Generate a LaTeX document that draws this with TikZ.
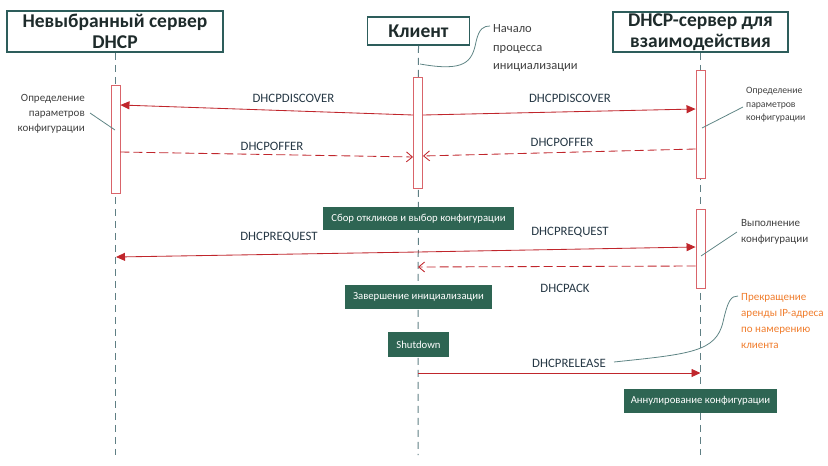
\documentclass[tikz,border=0pt]{standalone}
\usepackage{fontspec}
\setmainfont{Carlito}
\usetikzlibrary{arrows.meta}
\definecolor{hdr}{HTML}{2D5D5B}
\definecolor{hdrtxt}{HTML}{1E2B2B}
\definecolor{lifec}{HTML}{5F7F84}
\definecolor{msgred}{HTML}{C0262C}
\definecolor{barred}{HTML}{D9646A}
\definecolor{gbox}{HTML}{2E6553}
\definecolor{lbltxt}{HTML}{263845}
\definecolor{notetxt}{HTML}{404040}
\definecolor{noteline}{HTML}{5F8585}
\definecolor{orng}{HTML}{F07D2D}
\tikzset{
  header/.style={draw=hdr, line width=1.6pt, fill=white, align=center, inner sep=0pt,
    text=hdrtxt, font=\fontsize{19.5}{21}\selectfont\bfseries},
  lifeline/.style={draw=lifec, line width=1pt, dash pattern=on 7pt off 5pt},
  actbar/.style={draw=barred, line width=0.9pt, fill=white, minimum width=9pt, inner sep=0pt},
  msg/.style={draw=msgred, line width=0.85pt, -{Triangle[length=9pt,width=8pt]}},
  reply/.style={draw=msgred, line width=0.85pt, dash pattern=on 9pt off 4pt, -{Straight Barb[length=6pt,width=10pt]}},
  lbl/.style={text=lbltxt, font=\fontsize{12.8}{14}\selectfont, inner sep=0pt},
  gstep/.style={fill=gbox, text=white, inner sep=0pt, font=\fontsize{10.7}{12}\selectfont},
  note/.style={text=notetxt, inner sep=0pt},
  noteln/.style={draw=noteline, line width=0.8pt},
}
\begin{document}
\begin{tikzpicture}[x=1pt,y=-1pt]
\useasboundingbox (0,0) rectangle (828,466);
% headers
\node[header, minimum width=216pt, minimum height=41pt] (hl) at (115,31.5) {Невыбранный сервер\\DHCP};
\node[header, minimum width=102pt, minimum height=28pt] (hc) at (418.5,31) {Клиент};
\node[header, minimum width=175pt, minimum height=40pt] (hr) at (700.5,32) {DHCP-сервер для\\взаимодействия};
% lifelines
\coordinate (lbot) at (115,455);
\coordinate (cbot) at (418,455);
\coordinate (rbot) at (700.5,455);
\draw[lifeline] (hl.south) -- (lbot);
\draw[lifeline] (hc.south) -- (cbot);
\draw[lifeline] (hr.south) -- (rbot);
% activation bars
\node[actbar, minimum height=108pt] (lb) at (115.5,139) {};
\node[actbar, minimum height=111pt] (cb) at (418,132.5) {};
\node[actbar, minimum height=108pt] (rb1) at (700.5,124) {};
\node[actbar, minimum height=79pt] (rb2) at (700.5,248.5) {};
% DHCPDISCOVER
\coordinate (d0) at (cb.west |- 0,115);
\coordinate (d0r) at (cb.east |- 0,115);
\coordinate (d1) at (lb.east |- 0,105);
\coordinate (d2) at (rb1.west |- 0,109);
\draw[msg] (d0) -- (d1);
\draw[msg] (d0r) -- (d2);
\node[lbl] (ld1) at (293.5,98) {DHCPDISCOVER};
\node[lbl] (ld2) at (570,98) {DHCPDISCOVER};
% DHCPOFFER
\coordinate (o1) at (lb.east |- 0,152);
\coordinate (o1e) at (cb.west |- 0,157);
\coordinate (o2) at (rb1.west |- 0,149);
\coordinate (o2e) at (cb.east |- 0,156);
\draw[reply] (o1) -- (o1e);
\draw[reply] (o2) -- (o2e);
\node[lbl] (lo1) at (272,146) {DHCPOFFER};
\node[lbl] (lo2) at (562,142) {DHCPOFFER};
% collecting
\node[gstep, minimum width=191pt, minimum height=23pt] (sbor) at (418.5,218.5) {Сбор откликов и выбор конфигурации};
% DHCPREQUEST
\coordinate (r0) at (418,252);
\coordinate (r1) at (116,257);
\coordinate (r2) at (rb2.west |- 0,247);
\draw[msg] (r0) -- (r1);
\draw[msg] (r0) -- (r2);
\node[lbl] (lr1) at (279,237) {DHCPREQUEST};
\node[lbl] (lr2) at (570,232) {DHCPREQUEST};
% DHCPACK
\coordinate (a1) at (rb2.west |- 0,266);
\coordinate (a2) at (418,267);
\draw[reply] (a1) -- (a2);
\node[lbl] (la) at (565,288) {DHCPACK};
% steps
\node[gstep, minimum width=147pt, minimum height=24pt] (zav) at (418.5,297) {Завершение инициализации};
\node[gstep, minimum width=61pt, minimum height=25pt] (shut) at (418.5,344.5) {Shutdown};
% DHCPRELEASE
\coordinate (e1) at (418,373);
\coordinate (e2) at (700.5,373);
\draw[msg] (e1) -- (e2);
\node[lbl] (le) at (569,363) {DHCPRELEASE};
\node[gstep, minimum width=153pt, minimum height=24pt] (annul) at (700.5,401) {Аннулирование конфигурации};
% notes
\node[note, anchor=west, align=left, font=\fontsize{12.5}{18.5}\selectfont] (ncl) at (493,48.5) {Начало\\процесса\\инициализации};
\coordinate (ncl0) at (420,64);
\coordinate (ncl1) at (490,26);
\draw[noteln] (ncl0) .. controls (465,72) and (472,62) .. (476,42) .. controls (479,28) and (484,26) .. (ncl1);
\node[note, anchor=east, align=right, font=\fontsize{11}{15.2}\selectfont] (nl) at (85,114) {Определение\\параметров\\конфигурации};
\coordinate (nl0) at (90,113);
\coordinate (nl1) at (115,130);
\draw[noteln] (nl0) -- (nl1);
\node[note, anchor=west, align=left, font=\fontsize{9.7}{13.5}\selectfont] (nr) at (746,105) {Определение\\параметров\\конфигурации};
\coordinate (nr0) at (702,128);
\coordinate (nr1) at (743,107);
\draw[noteln] (nr0) -- (nr1);
\node[note, anchor=west, align=left, font=\fontsize{11}{16}\selectfont] (nv) at (741,232) {Выполнение\\конфигурации};
\coordinate (nv0) at (701,256);
\coordinate (nv1) at (737,232);
\draw[noteln] (nv0) -- (nv1);
\node[note, text=orng, anchor=west, align=left, font=\fontsize{11}{15.7}\selectfont] (no) at (741,321) {Прекращение\\аренды IP-адреса\\по намерению\\клиента};
\coordinate (no0) at (614,362);
\coordinate (no1) at (738,296);
\draw[noteln] (no0) .. controls (690,354) and (716,352) .. (723,322) .. controls (728,300) and (731,296) .. (no1);
\end{tikzpicture}
\end{document}
